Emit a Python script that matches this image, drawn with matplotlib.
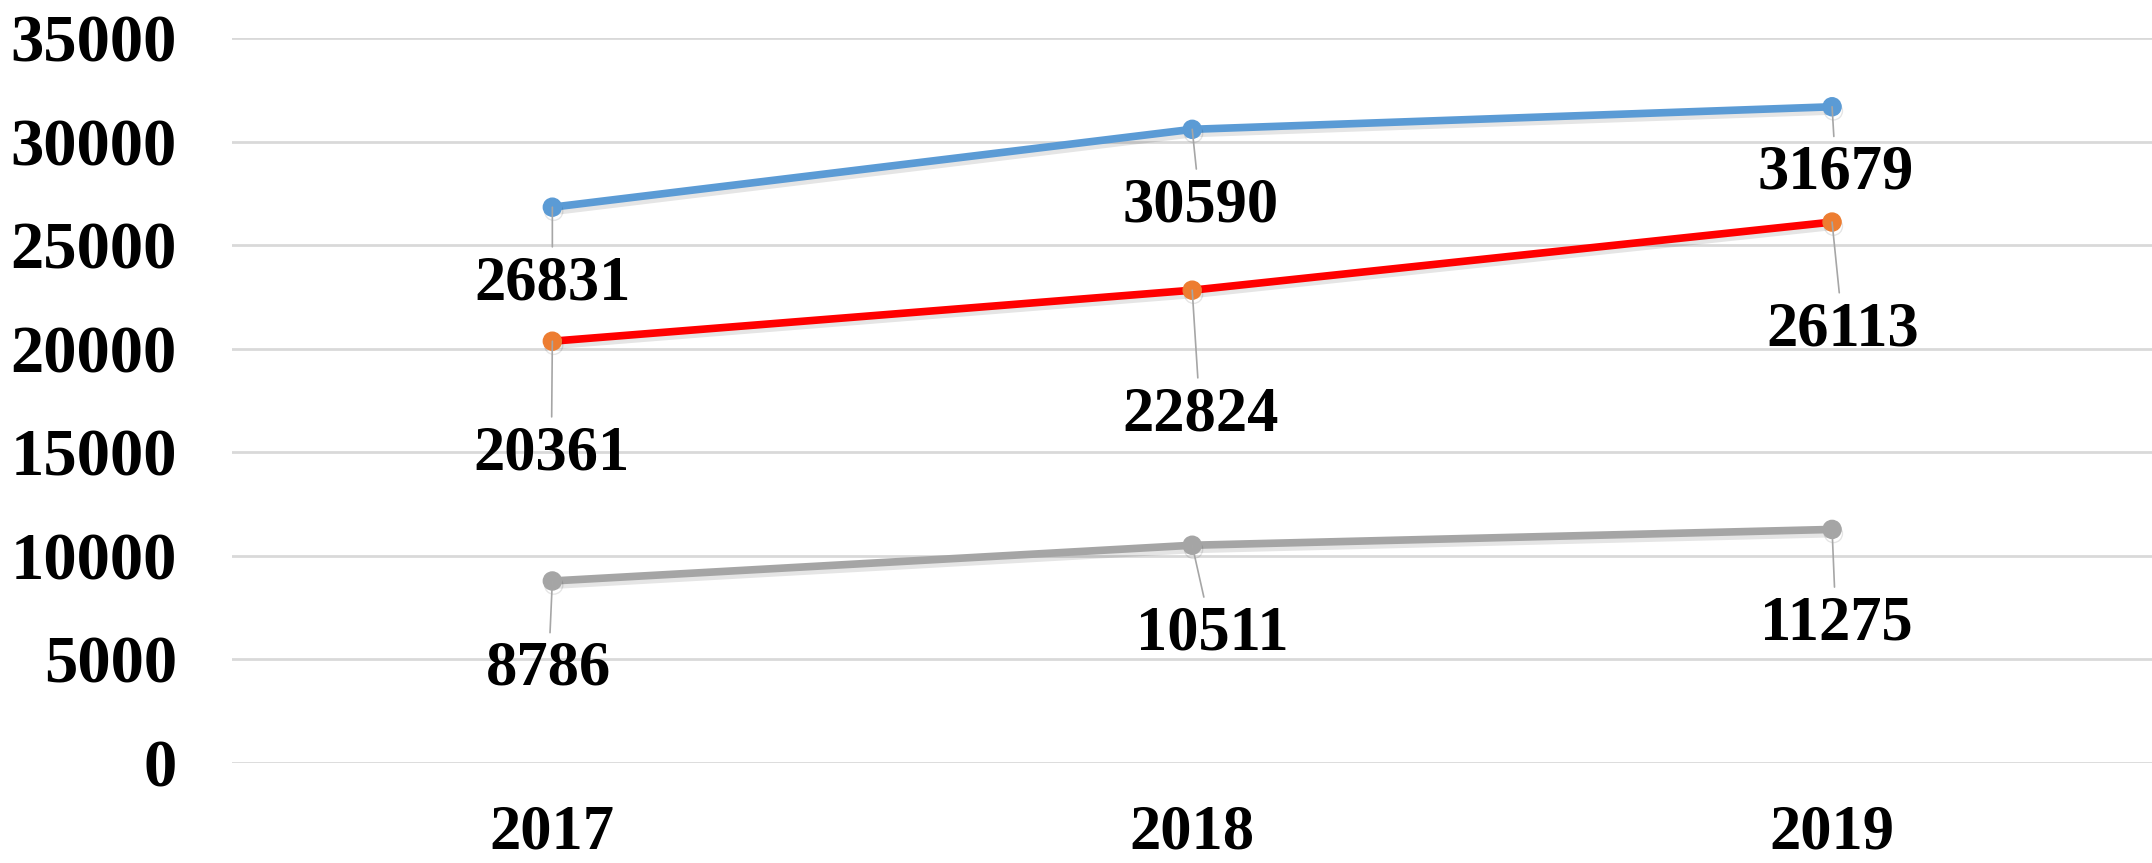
import matplotlib
matplotlib.use("Agg")
import matplotlib.pyplot as plt
import matplotlib.patheffects as pe

years = ["2017", "2018", "2019"]
blue_vals = [26831, 30590, 31679]
red_vals = [20361, 22824, 26113]
gray_vals = [8786, 10511, 11275]
y_ticks = [0, 5000, 10000, 15000, 20000, 25000, 30000, 35000]

# label offsets (pixels) from each marker, chosen to match the picture
blue_off = [(0, -77), (8, -77), (4, -67)]
red_off = [(-1, -113), (8, -125), (11, -108)]
gray_off = [(-4, -89), (20, -89), (4, -95)]

FONT = "Liberation Serif"

fig = plt.figure(figsize=(21.52, 8.63), dpi=100)
ax = fig.add_axes([0.108, 0.1159, 0.892, 0.8401])

x = list(range(len(years)))
shadow = [pe.SimpleLineShadow(offset=(1, -3), alpha=0.1), pe.Normal()]

series = [
    (blue_vals, "#5B9BD5", "#5B9BD5", blue_off),
    (red_vals, "#FF0000", "#ED7D31", red_off),
    (gray_vals, "#A5A5A5", "#A5A5A5", gray_off),
]

for vals, lc, mc, offs in series:
    ax.plot(x, vals, color=lc, linewidth=5.5, marker="o", markersize=13,
            markerfacecolor=mc, markeredgecolor=mc, zorder=3,
            path_effects=shadow, solid_capstyle="round")
    for xi, v, (dx, dy) in zip(x, vals, offs):
        ax.annotate(f"{v}", xy=(xi, v), xytext=(dx, dy), textcoords="offset pixels",
                    ha="center", va="center", fontsize=45, fontweight="bold",
                    family=FONT, color="black", zorder=4,
                    arrowprops=dict(arrowstyle="-", color="#A6A6A6", lw=1.2,
                                    shrinkA=4, shrinkB=0))

ax.set_xlim(-0.5, 2.5)
ax.set_ylim(0, 35000)
ax.set_xticks(x)
ax.set_xticklabels(years)
ax.set_yticks(y_ticks)
ax.set_yticklabels([str(t) for t in y_ticks])
ax.yaxis.grid(True, color="#D9D9D9", linewidth=2)
ax.set_axisbelow(True)
for s in ax.spines.values():
    s.set_visible(False)
ax.tick_params(axis="both", length=0)
ax.tick_params(axis="y", pad=40)
ax.tick_params(axis="x", pad=30)
for lab in ax.get_yticklabels():
    lab.set_fontfamily(FONT)
    lab.set_fontweight("bold")
    lab.set_fontsize(48)
for lab in ax.get_xticklabels():
    lab.set_fontfamily(FONT)
    lab.set_fontweight("bold")
    lab.set_fontsize(45)

fig.savefig("out.png", dpi=100, facecolor="white")
